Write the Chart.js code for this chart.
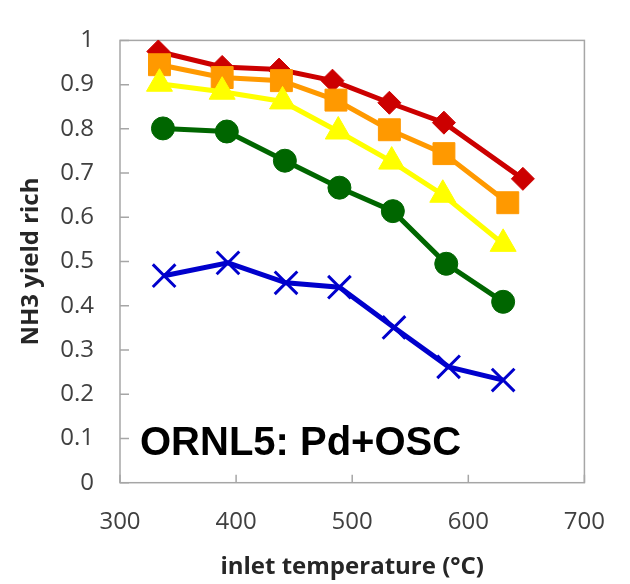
<!DOCTYPE html>
<html>
<head>
<meta charset="utf-8">
<script src="https://cdn.jsdelivr.net/npm/chart.js@4"></script>
<style>
  html, body { margin: 0; padding: 0; background: #fff; }
  #wrap { width: 630px; height: 584px; }
</style>
</head>
<body>
<div id="wrap"><canvas id="c" width="630" height="584"></canvas></div>
<script>
// ---- data ----
const redX    = [333, 388, 437, 483, 532, 579, 647];
const redY    = [0.975, 0.94, 0.934, 0.909, 0.859, 0.814, 0.687];
const orangeX = [334, 388, 439, 486, 532, 579, 634];
const orangeY = [0.945, 0.916, 0.909, 0.865, 0.798, 0.744, 0.633];
const yellowX = [334, 388, 440, 488, 534, 578, 630];
const yellowY = [0.902, 0.884, 0.862, 0.794, 0.726, 0.651, 0.540];
const greenX  = [337, 392, 442, 489, 535, 581, 630];
const greenY  = [0.801, 0.794, 0.728, 0.667, 0.614, 0.495, 0.409];
const blueX   = [338, 393, 443, 489, 536, 583, 630];
const blueY   = [0.468, 0.497, 0.452, 0.442, 0.351, 0.262, 0.232];

const xTicks = [300, 400, 500, 600, 700];
const yTicks = [0, 0.1, 0.2, 0.3, 0.4, 0.5, 0.6, 0.7, 0.8, 0.9, 1];
const xTitle = 'inlet temperature (\u00B0C)';
const yTitle = 'NH3 yield rich';
const annotationText = 'ORNL5: Pd+OSC';

const pts = (xs, ys) => xs.map((x, i) => ({ x: x, y: ys[i] }));

const AXIS_GRAY = '#a6a6a6';
const FONT = '"Open Sans", Lato, sans-serif';

const framePlugin = {
  id: 'frame',
  beforeDatasetsDraw(chart) {
    const { ctx, chartArea: a, scales } = chart;
    ctx.save();
    ctx.strokeStyle = AXIS_GRAY;
    ctx.lineWidth = 1.5;
    ctx.strokeRect(a.left, a.top, a.right - a.left, a.bottom - a.top);
    ctx.beginPath();
    yTicks.forEach(v => {
      const y = scales.y.getPixelForValue(v);
      ctx.moveTo(a.left, y); ctx.lineTo(a.left + 9, y);
    });
    xTicks.forEach(v => {
      const x = scales.x.getPixelForValue(v);
      ctx.moveTo(x, a.bottom); ctx.lineTo(x, a.bottom - 8);
    });
    ctx.stroke();
    ctx.restore();
  },
  afterDatasetsDraw(chart) {
    const { ctx } = chart;
    ctx.save();
    ctx.fillStyle = '#000';
    ctx.font = 'bold 40px "Liberation Sans", Arial, sans-serif';
    ctx.textBaseline = 'alphabetic';
    ctx.textAlign = 'left';
    ctx.fillText(annotationText, 140, 455);
    ctx.restore();
  }
};

const common = { showLine: true, borderWidth: 5, pointBorderWidth: 1, fill: false, tension: 0, clip: false };

new Chart(document.getElementById('c'), {
  type: 'scatter',
  data: {
    datasets: [
      Object.assign({}, common, { label: 'blue', data: pts(blueX, blueY), borderColor: '#0000cc', backgroundColor: '#0000cc',
        pointStyle: 'crossRot', pointRadius: 16, pointBorderWidth: 3, pointBorderColor: '#0000cc' }),
      Object.assign({}, common, { label: 'green', data: pts(greenX, greenY), borderColor: '#006600', backgroundColor: '#006600',
        pointStyle: 'circle', pointRadius: 11.5, pointBorderColor: '#006600' }),
      Object.assign({}, common, { label: 'yellow', data: pts(yellowX, yellowY), borderColor: '#ffff00', backgroundColor: '#ffff00',
        pointStyle: 'triangle', pointRadius: 15, pointBorderColor: '#ffff00' }),
      Object.assign({}, common, { label: 'orange', data: pts(orangeX, orangeY), borderColor: '#ff9900', backgroundColor: '#ff9900',
        pointStyle: 'rect', pointRadius: 15.5, pointBorderColor: '#ff9900' }),
      Object.assign({}, common, { label: 'red', data: pts(redX, redY), borderColor: '#cc0000', backgroundColor: '#cc0000',
        pointStyle: 'rectRot', pointRadius: 11.5, pointBorderColor: '#cc0000' })
    ]
  },
  options: {
    responsive: false,
    animation: false,
    events: [],
    layout: { padding: { left: 0, top: 17.5, right: 22.3, bottom: 0 } },
    plugins: { legend: { display: false }, tooltip: { enabled: false } },
    scales: {
      x: {
        type: 'linear', min: 300, max: 700,
        afterBuildTicks: s => { s.ticks = xTicks.map(v => ({ value: v })); },
        afterFit: s => { s.height = 101.3; },
        grid: { display: false, drawTicks: false, tickLength: 0 },
        border: { display: false },
        ticks: { padding: 25, color: '#404040', font: { family: FONT, size: 24 }, maxRotation: 0,
          callback: v => String(v) },
        title: { display: true, text: xTitle, color: '#262626', padding: { top: 0, bottom: 2.5 },
          font: { family: FONT, size: 24, weight: 'bold' } }
      },
      y: {
        type: 'linear', min: 0, max: 1,
        afterBuildTicks: s => { s.ticks = yTicks.map(v => ({ value: v })); },
        afterFit: s => { s.width = 120; },
        grid: { display: false, drawTicks: false, tickLength: 0 },
        border: { display: false },
        ticks: { padding: 26, color: '#404040', font: { family: FONT, size: 24 },
          callback: v => String(+v.toFixed(1)) },
        title: { display: true, text: yTitle, color: '#262626', padding: { top: 16.5, bottom: 0 },
          font: { family: FONT, size: 24, weight: 'bold' } }
      }
    }
  },
  plugins: [framePlugin]
});
</script>
</body>
</html>
